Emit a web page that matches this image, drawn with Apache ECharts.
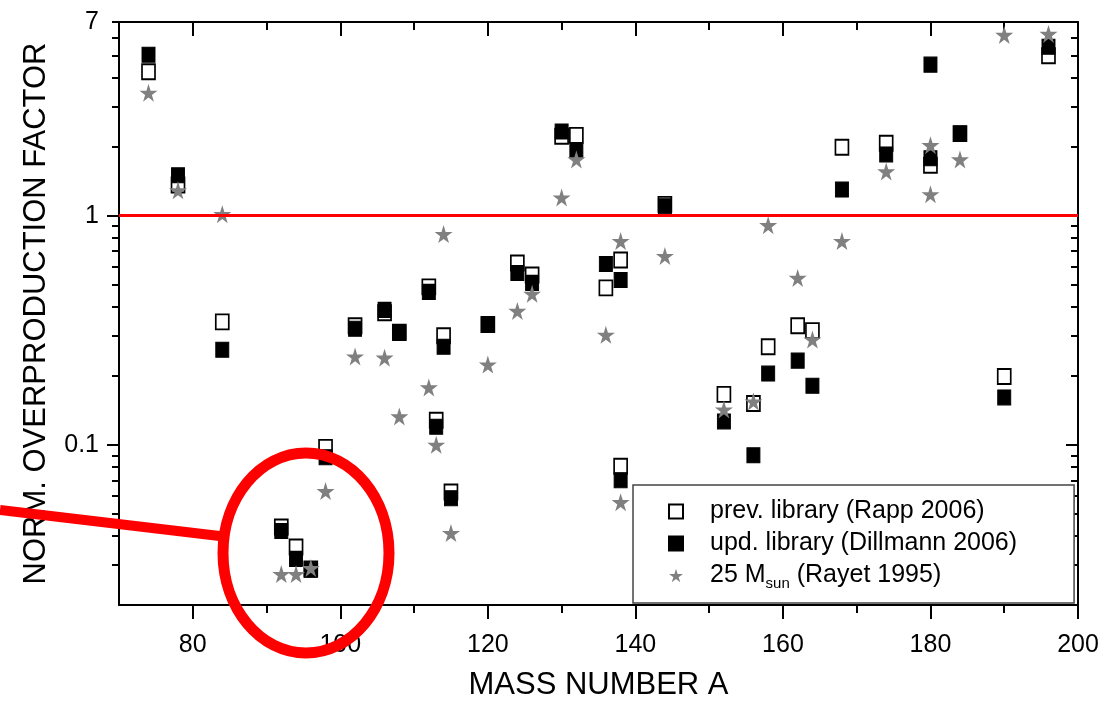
<!DOCTYPE html>
<html>
<head>
<meta charset="utf-8">
<script src="https://cdn.jsdelivr.net/npm/echarts@6/dist/echarts.min.js"></script>
<style>
  html, body { margin: 0; padding: 0; background: #fff; }
  #chart { width: 1106px; height: 710px; }
</style>
</head>
<body>
<div id="chart"></div>
<script>
// mass numbers of the p-nuclei (138 and 180 appear twice)
var massNumbers = [74, 78, 84, 92, 94, 96, 98, 102, 106, 108, 112, 113, 114, 115, 120, 124, 126, 130, 132, 136, 138, 138, 144, 152, 156, 158, 162, 164, 168, 174, 180, 180, 184, 190, 196];
var prevLibrary = [4.25, 1.36, 0.344, 0.0438, 0.0358, 0.0287, 0.0975, 0.331, 0.377, 0.31, 0.489, 0.128, 0.299, 0.0622, 0.335, 0.622, 0.551, 2.22, 2.24, 0.484, 0.641, 0.0806, 1.12, 0.166, 0.1515, 0.268, 0.331, 0.315, 1.99, 2.07, 1.66, null, 2.28, 0.1986, 4.99];
var updLibrary = [5.04, 1.50, 0.260, 0.0421, 0.0318, 0.0285, 0.0883, 0.321, 0.388, 0.308, 0.465, 0.120, 0.268, 0.0585, 0.334, 0.562, 0.509, 2.33, 1.93, 0.615, 0.524, 0.0701, 1.10, 0.1265, 0.090, 0.2046, 0.233, 0.181, 1.30, 1.85, 1.78, 4.56, 2.28, 0.161, 5.46];
var rayet1995 = [3.44, 1.29, 1.015, 0.0273, 0.0273, 0.0290, 0.0628, 0.243, 0.240, 0.133, 0.178, 0.100, 0.831, 0.0412, 0.224, 0.384, 0.456, 1.20, 1.76, 0.302, 0.775, 0.0562, 0.667, 0.1426, 0.1546, 0.909, 0.535, 0.288, 0.775, 1.56, 2.03, 1.24, 1.76, 6.15, 6.21];

var seriesNames = ["prev. library (Rapp 2006)", "upd. library (Dillmann 2006)", "25 Msun (Rayet 1995)"];

// ticks and labels
var xMajor = [80, 100, 120, 140, 160, 180, 200];
var xMinor = [90, 110, 130, 150, 170, 190];
var yLabels = [0.1, 1, 7];
var yMajor = [0.1, 1];
var yMinor = [0.03, 0.04, 0.05, 0.06, 0.07, 0.08, 0.09, 0.2, 0.3, 0.4, 0.5, 0.6, 0.7, 0.8, 0.9, 2, 3, 4, 5, 6, 7];
var refLine = 1;

var FONT = "'Liberation Sans', Arial, sans-serif";
var starPath = "path://M50,0 L61,35 L98,35 L68,57 L79,91 L50,70 L21,91 L32,57 L2,35 L39,35 Z";

function pairs(vals) {
  var out = [];
  for (var i = 0; i < massNumbers.length; i++) {
    if (vals[i] != null) out.push([massNumbers[i], vals[i]]);
  }
  return out;
}

function xAxisCfg(pos, ticks, len, inside, showLine) {
  return {
    type: "value", min: 70, max: 200, position: pos,
    axisLine: { show: showLine, onZero: false, lineStyle: { color: "#000", width: 2 } },
    axisTick: { show: true, inside: inside, length: len, customValues: ticks, lineStyle: { color: "#000", width: 2 } },
    axisLabel: { show: false },
    splitLine: { show: false }
  };
}
function yAxisCfg(pos, ticks, len, inside, showLine) {
  return {
    type: "log", logBase: 10, min: 0.02, max: 7, position: pos,
    axisLine: { show: showLine, onZero: false, lineStyle: { color: "#000", width: 2 } },
    axisTick: { show: true, inside: inside, length: len, customValues: ticks, lineStyle: { color: "#000", width: 2 } },
    axisLabel: { show: false },
    splitLine: { show: false }
  };
}

var xMain = xAxisCfg("bottom", xMajor, 14, false, true);
xMain.axisLabel = { show: true, customValues: xMajor, margin: 28, fontSize: 25, color: "#000", fontFamily: FONT };
xMain.name = "MASS NUMBER A";
xMain.nameLocation = "middle";
xMain.nameGap = 65;
xMain.nameTextStyle = { fontSize: 31, color: "#000", fontFamily: FONT };

var yMain = yAxisCfg("left", yMajor, 12, false, true);
yMain.axisLabel = { show: true, customValues: yLabels, margin: 20, fontSize: 25, color: "#000", fontFamily: FONT };
yMain.name = "NORM. OVERPRODUCTION FACTOR";
yMain.nameLocation = "middle";
yMain.nameGap = 67;
yMain.nameTextStyle = { fontSize: 31, color: "#000", fontFamily: FONT };

var chart = echarts.init(document.getElementById("chart"));
var option = {
  backgroundColor: "#fff",
  animation: false,
  grid: { left: 119, right: 28, top: 22, bottom: 105 },
  legend: {
    orient: "vertical",
    left: 633, top: 485,
    padding: [14, 57, 12, 35],
    itemGap: 7,
    itemWidth: 14, itemHeight: 14,
    borderColor: "#444", borderWidth: 1.5,
    backgroundColor: "#fff",
    data: seriesNames,
    formatter: function (name) {
      if (name === seriesNames[2]) return "25 M{sub|sun} (Rayet 1995)";
      return name;
    },
    textStyle: {
      fontSize: 25, color: "#000", fontFamily: FONT, padding: [0, 0, 0, 22],
      rich: { sub: { fontSize: 15, fontFamily: FONT, color: "#000", padding: [16, 0, 0, 0], verticalAlign: "bottom" } }
    }
  },
  xAxis: [
    xMain,
    xAxisCfg("bottom", xMinor, 8, false, false),
    xAxisCfg("top", xMajor, 14, true, true),
    xAxisCfg("top", xMinor, 8, true, false)
  ],
  yAxis: [
    yMain,
    yAxisCfg("left", yMinor, 7, false, false),
    yAxisCfg("right", yMajor, 12, true, true),
    yAxisCfg("right", yMinor, 7, true, false)
  ],
  series: [
    {
      name: seriesNames[0], type: "scatter", symbol: "rect", symbolSize: [13, 15],
      itemStyle: { color: "#fff", borderColor: "#000", borderWidth: 1.8, opacity: 1 },
      data: pairs(prevLibrary),
      markLine: {
        silent: true, symbol: ["none", "none"], label: { show: false },
        lineStyle: { color: "#ff0000", width: 3, type: "solid" },
        data: [{ yAxis: refLine }]
      }
    },
    {
      name: seriesNames[1], type: "scatter", symbol: "rect", symbolSize: [13, 15],
      itemStyle: { color: "#000", borderColor: "#000", borderWidth: 1, opacity: 1 },
      data: pairs(updLibrary)
    },
    {
      name: seriesNames[2], type: "scatter", symbol: starPath, symbolSize: 18,
      itemStyle: { color: "#808080", opacity: 1 },
      data: pairs(rayet1995)
    }
  ],
  graphic: [
    { type: "line", z: 100, shape: { x1: 0, y1: 510, x2: 228, y2: 537 }, style: { stroke: "#ff0000", lineWidth: 10 } },
    { type: "ellipse", z: 100, shape: { cx: 306, cy: 553, rx: 83, ry: 100 }, style: { fill: null, stroke: "#ff0000", lineWidth: 11 } }
  ]
};
chart.setOption(option);
</script>
</body>
</html>
